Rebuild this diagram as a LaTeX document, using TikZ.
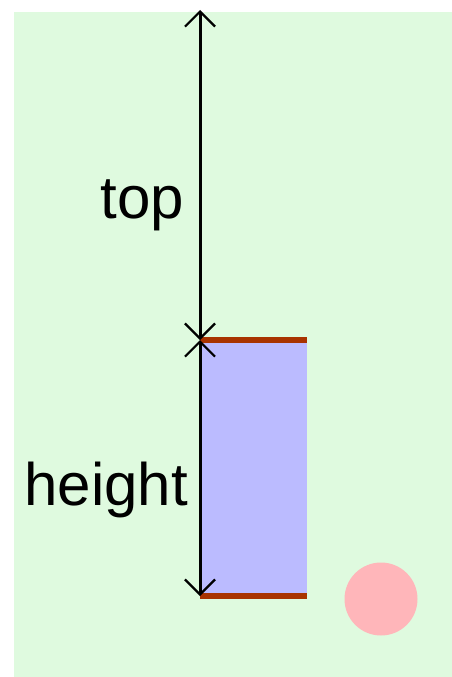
\documentclass[tikz,border=0pt]{standalone}
\usepackage{fontspec}
\setmainfont{Liberation Sans}
\usetikzlibrary{arrows.meta}
\definecolor{bggreen}{HTML}{DFFADF}
\definecolor{barblue}{HTML}{BBBBFF}
\definecolor{edgered}{HTML}{A83300}
\definecolor{dotpink}{HTML}{FFB6BA}
\begin{document}
\begin{tikzpicture}[x=1pt,y=-1pt,font=\fontsize{60}{64}\selectfont,dim/.style={{Straight Barb[length=15pt,width=30pt,line width=2.2pt]}-{Straight Barb[length=15pt,width=30pt,line width=2.2pt]}, line width=3pt, black},bar/.style={fill=barblue, draw=none, minimum width=107pt, minimum height=256pt, inner sep=0pt, outer sep=0pt, anchor=north west},edge/.style={edgered, line width=6pt},label/.style={anchor=base east, inner sep=0pt}]
\useasboundingbox (0,0) rectangle (452,677);
\fill[bggreen] (14,12) rectangle (452,677);
\node[bar] (box) at (200,340) {};\draw[edge] (box.north west) -- (box.north east);\draw[edge] (box.south west) -- (box.south east);
\fill[dotpink] (381,599) circle (36.5pt);
\coordinate (tiptop) at (200,10);
\draw[dim] (box.north west) -- (tiptop);\draw[dim] (box.north west) -- (box.south west);
\node[label] (toplabel) at (184,218) {top};\node[label] (heightlabel) at (188,505) {height};
\end{tikzpicture}
\end{document}
